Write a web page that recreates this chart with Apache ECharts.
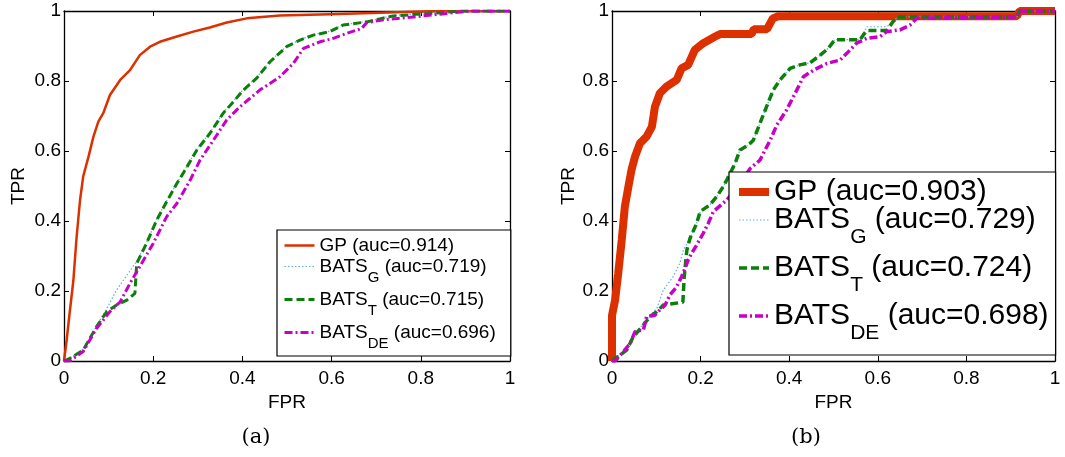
<!DOCTYPE html>
<html>
<head>
<meta charset="utf-8">
<script src="https://cdn.jsdelivr.net/npm/echarts@6/dist/echarts.min.js"></script>
<style>
  html, body { margin: 0; padding: 0; background: #fff; }
  #chart { width: 1065px; height: 457px; }
</style>
</head>
<body>
<div id="chart"></div>
<script>
// ---------------- DATA ----------------
// Axis ticks
const tickValues = [0, 0.2, 0.4, 0.6, 0.8, 1];

// Panel (a)
const gpA_fpr  = [0, 0.006, 0.012, 0.021, 0.028, 0.036, 0.043, 0.055, 0.066, 0.077, 0.088, 0.103, 0.126, 0.148, 0.170, 0.193, 0.215, 0.253, 0.290, 0.327, 0.365, 0.41, 0.484, 0.596, 0.709, 0.82, 0.9, 1];
const gpA_tpr  = [0, 0.06, 0.13, 0.23, 0.35, 0.46, 0.527, 0.584, 0.641, 0.684, 0.708, 0.760, 0.803, 0.831, 0.874, 0.898, 0.912, 0.927, 0.941, 0.953, 0.967, 0.979, 0.987, 0.991, 0.995, 0.999, 1, 1];

const batsGA_fpr = [0, 0.01, 0.043, 0.073, 0.096, 0.118, 0.141, 0.163, 0.185, 0.208, 0.23, 0.253, 0.267, 0.298, 0.327, 0.357, 0.38, 0.402, 0.432, 0.462, 0.499, 0.529, 0.559, 0.596, 0.626, 0.679, 0.738, 0.82, 0.895, 1];
const batsGA_tpr = [0, 0.005, 0.035, 0.1, 0.15, 0.203, 0.245, 0.285, 0.338, 0.405, 0.457, 0.509, 0.538, 0.605, 0.652, 0.71, 0.743, 0.776, 0.81, 0.857, 0.899, 0.918, 0.932, 0.942, 0.961, 0.97, 0.987, 0.994, 1, 1];

const batsTA_fpr = [0, 0.01, 0.043, 0.073, 0.096, 0.118, 0.141, 0.159, 0.163, 0.185, 0.208, 0.23, 0.253, 0.267, 0.298, 0.327, 0.357, 0.38, 0.402, 0.432, 0.462, 0.499, 0.529, 0.559, 0.596, 0.626, 0.679, 0.738, 0.82, 0.895, 1];
const batsTA_tpr = [0, 0.005, 0.031, 0.098, 0.141, 0.16, 0.174, 0.193, 0.279, 0.336, 0.403, 0.455, 0.507, 0.536, 0.603, 0.650, 0.708, 0.741, 0.774, 0.808, 0.855, 0.898, 0.917, 0.931, 0.941, 0.96, 0.969, 0.986, 0.993, 1, 1];

const batsDEA_fpr = [0, 0.013, 0.043, 0.073, 0.103, 0.126, 0.148, 0.170, 0.2, 0.23, 0.253, 0.283, 0.305, 0.335, 0.365, 0.395, 0.439, 0.484, 0.514, 0.537, 0.574, 0.604, 0.634, 0.667, 0.679, 0.724, 0.783, 0.858, 0.91, 1];
const batsDEA_tpr = [0, 0, 0.027, 0.093, 0.141, 0.169, 0.222, 0.27, 0.336, 0.412, 0.45, 0.517, 0.574, 0.631, 0.689, 0.727, 0.774, 0.812, 0.85, 0.893, 0.912, 0.922, 0.936, 0.95, 0.967, 0.976, 0.983, 0.993, 1, 1];

// Panel (b)
const gpB_fpr = [0, 0, 0.007, 0.014, 0.022, 0.029, 0.037, 0.044, 0.052, 0.063, 0.078, 0.09, 0.097, 0.108, 0.123, 0.146, 0.157, 0.172, 0.187, 0.206, 0.233, 0.244, 0.315, 0.32, 0.35, 0.363, 0.375, 0.914, 0.92, 1];
const gpB_tpr = [0, 0.13, 0.174, 0.25, 0.346, 0.441, 0.498, 0.546, 0.584, 0.622, 0.641, 0.669, 0.727, 0.765, 0.784, 0.803, 0.836, 0.846, 0.889, 0.908, 0.927, 0.934, 0.934, 0.948, 0.948, 0.979, 0.985, 0.985, 1, 1];

const batsGB_fpr = [0, 0.003, 0.033, 0.048, 0.071, 0.086, 0.101, 0.116, 0.138, 0.153, 0.161, 0.176, 0.191, 0.199, 0.221, 0.236, 0.251, 0.259, 0.278, 0.289, 0.308, 0.319, 0.334, 0.349, 0.364, 0.379, 0.402, 0.424, 0.447, 0.47, 0.488, 0.503, 0.56, 0.567, 0.575, 0.62, 0.634, 0.645, 0.914, 0.92, 1];
const batsGB_tpr = [0, 0, 0.035, 0.075, 0.105, 0.13, 0.15, 0.203, 0.241, 0.279, 0.317, 0.35, 0.393, 0.427, 0.446, 0.469, 0.498, 0.517, 0.565, 0.603, 0.617, 0.631, 0.679, 0.727, 0.774, 0.803, 0.836, 0.846, 0.852, 0.874, 0.893, 0.918, 0.918, 0.931, 0.955, 0.955, 0.969, 0.983, 0.983, 1, 1];

const batsTB_fpr = [0, 0.003, 0.033, 0.048, 0.071, 0.086, 0.101, 0.116, 0.16, 0.163, 0.169, 0.176, 0.191, 0.199, 0.221, 0.236, 0.251, 0.259, 0.278, 0.289, 0.308, 0.319, 0.334, 0.349, 0.364, 0.379, 0.402, 0.424, 0.447, 0.47, 0.488, 0.503, 0.56, 0.567, 0.575, 0.62, 0.634, 0.645, 0.914, 0.92, 1];
const batsTB_tpr = [0, 0, 0.031, 0.069, 0.103, 0.127, 0.141, 0.16, 0.168, 0.241, 0.317, 0.35, 0.393, 0.427, 0.446, 0.469, 0.498, 0.517, 0.565, 0.603, 0.617, 0.631, 0.679, 0.727, 0.774, 0.803, 0.836, 0.846, 0.852, 0.874, 0.893, 0.918, 0.918, 0.931, 0.944, 0.944, 0.969, 0.983, 0.983, 1, 1];

const batsDEB_fpr = [0, 0.007, 0.026, 0.041, 0.052, 0.071, 0.078, 0.097, 0.108, 0.12, 0.131, 0.146, 0.157, 0.165, 0.172, 0.18, 0.191, 0.206, 0.217, 0.229, 0.259, 0.285, 0.312, 0.334, 0.357, 0.372, 0.394, 0.417, 0.432, 0.455, 0.485, 0.515, 0.53, 0.552, 0.575, 0.605, 0.62, 0.65, 0.673, 0.688, 0.914, 0.92, 1];
const batsDEB_tpr = [0, 0, 0.027, 0.05, 0.084, 0.089, 0.127, 0.131, 0.146, 0.16, 0.189, 0.212, 0.241, 0.265, 0.289, 0.308, 0.331, 0.365, 0.393, 0.427, 0.46, 0.5, 0.55, 0.574, 0.631, 0.674, 0.717, 0.774, 0.812, 0.831, 0.85, 0.86, 0.879, 0.908, 0.922, 0.927, 0.941, 0.946, 0.96, 0.979, 0.983, 1, 1];

// Series names (legend labels)
const namesA = ['GP (auc=0.914)', 'BATS_G (auc=0.719)', 'BATS_T (auc=0.715)', 'BATS_DE (auc=0.696)'];
const namesB = ['GP (auc=0.903)', 'BATS_G (auc=0.729)', 'BATS_T (auc=0.724)', 'BATS_DE (auc=0.698)'];
const captions = ['(a)', '(b)'];
const axisNames = { x: 'FPR', y: 'TPR' };

// ---------------- STYLE ----------------
const FONT = '"Liberation Sans", Arial, Helvetica, sans-serif';
const SERIF = '"DejaVu Serif", "Liberation Serif", serif';
const COL = { gp: '#dc3000', g: '#5ab0e0', t: '#0a800a', de: '#c800c8' };

const pairs = (xs, ys) => xs.map((x, i) => [x, ys[i]]);

function legendFormatter(name) {
  const m = name.match(/^([A-Z]+)_([A-Z]+)(.*)$/);
  if (m) return '{m|' + m[1] + '}{s|' + m[2] + '}{m|' + m[3] + '}';
  return '{m|' + name + '}';
}

function axesFor(gi) {
  const common = {
    type: 'value', min: 0, max: 1, interval: 0.2, gridIndex: gi,
    splitLine: { show: false },
    axisLine: { show: true, onZero: false, lineStyle: { color: '#000', width: 1.3 } },
    axisTick: { show: true, inside: true, length: 5, lineStyle: { color: '#000', width: 1 } }
  };
  const xs = [
    Object.assign({}, common, {
      position: 'bottom', name: axisNames.x, nameLocation: 'middle', nameGap: 26,
      nameTextStyle: { fontFamily: FONT, fontSize: 19, color: '#000' },
      axisLabel: { show: true, margin: 8, fontFamily: FONT, fontSize: 19, color: '#000' }
    }),
    Object.assign({}, common, { position: 'top', axisLabel: { show: false } })
  ];
  const ys = [
    Object.assign({}, common, {
      position: 'left', name: axisNames.y, nameLocation: 'middle', nameGap: gi === 0 ? 36 : 32,
      nameTextStyle: { fontFamily: FONT, fontSize: 19, color: '#000' },
      axisLabel: { show: true, margin: 3, fontFamily: FONT, fontSize: 19, color: '#000' }
    }),
    Object.assign({}, common, { position: 'right', axisLabel: { show: false } })
  ];
  return { xs, ys };
}

const axA = axesFor(0), axB = axesFor(1);

function line(name, xi, yi, data, color, width, type) {
  return {
    type: 'line', name, xAxisIndex: xi, yAxisIndex: yi, data,
    symbol: 'none', showSymbol: false, animation: false,
    lineStyle: { color, width, type },
    itemStyle: { color }
  };
}

const legendCommon = {
  orient: 'vertical', itemWidth: 30, itemHeight: 10,
  backgroundColor: '#fff', borderColor: '#000', borderWidth: 1.2, borderRadius: 0,
  selectedMode: false, formatter: legendFormatter,
  itemStyle: { opacity: 0, borderWidth: 0 },
  lineStyle: { width: 'inherit', type: 'inherit', opacity: 1 }
};

const option = {
  animation: false,
  backgroundColor: '#fff',
  grid: [
    { left: 64, top: 11, width: 446, height: 350 },
    { left: 612, top: 11, width: 443, height: 350 }
  ],
  xAxis: [...axA.xs, ...axB.xs],
  yAxis: [...axA.ys, ...axB.ys],
  legend: [
    Object.assign({}, legendCommon, {
      left: 277, top: 230, padding: [6, 15, 2, 6], itemGap: 2, itemTextGap: 2,
      data: namesA,
      textStyle: {
        fontFamily: FONT, fontSize: 19, color: '#000',
        rich: {
          m: { fontFamily: FONT, fontSize: 19, lineHeight: 19, verticalAlign: 'top', color: '#000' },
          s: { fontFamily: FONT, fontSize: 15, lineHeight: 15, verticalAlign: 'top', padding: [13, 0, 3, 0], color: '#000' }
        }
      }
    }),
    Object.assign({}, legendCommon, {
      left: 729, top: 172, padding: [5, 7, 4, 6], itemGap: -2, itemTextGap: 0,
      data: namesB,
      textStyle: {
        fontFamily: FONT, fontSize: 30, color: '#000',
        rich: {
          m: { fontFamily: FONT, fontSize: 30, lineHeight: 30, verticalAlign: 'top', color: '#000' },
          s: { fontFamily: FONT, fontSize: 21, lineHeight: 21, verticalAlign: 'top', padding: [22, 0, 7, 0], color: '#000' }
        }
      }
    })
  ],
  graphic: [
    { type: 'text', style: { text: captions[0], x: 256, y: 438, align: 'center', verticalAlign: 'middle', fontFamily: SERIF, fontSize: 21, fill: '#000' } },
    { type: 'text', style: { text: captions[1], x: 806, y: 438, align: 'center', verticalAlign: 'middle', fontFamily: SERIF, fontSize: 21, fill: '#000' } }
  ],
  series: [
    line(namesA[0], 0, 0, pairs(gpA_fpr, gpA_tpr), COL.gp, 2.5, 'solid'),
    line(namesA[1], 0, 0, pairs(batsGA_fpr, batsGA_tpr), COL.g, 1.2, [1.5, 2]),
    line(namesA[2], 0, 0, pairs(batsTA_fpr, batsTA_tpr), COL.t, 3, [8, 4]),
    line(namesA[3], 0, 0, pairs(batsDEA_fpr, batsDEA_tpr), COL.de, 3, [8, 3, 2, 3]),
    line(namesB[0], 2, 2, pairs(gpB_fpr, gpB_tpr), COL.gp, 8, 'solid'),
    line(namesB[1], 2, 2, pairs(batsGB_fpr, batsGB_tpr), COL.g, 1.2, [1.5, 2]),
    line(namesB[2], 2, 2, pairs(batsTB_fpr, batsTB_tpr), COL.t, 3.5, [8, 4]),
    line(namesB[3], 2, 2, pairs(batsDEB_fpr, batsDEB_tpr), COL.de, 3.5, [8, 3, 2, 3])
  ]
};

const chart = echarts.init(document.getElementById('chart'), null, { renderer: 'canvas' });
chart.setOption(option);
</script>
</body>
</html>
